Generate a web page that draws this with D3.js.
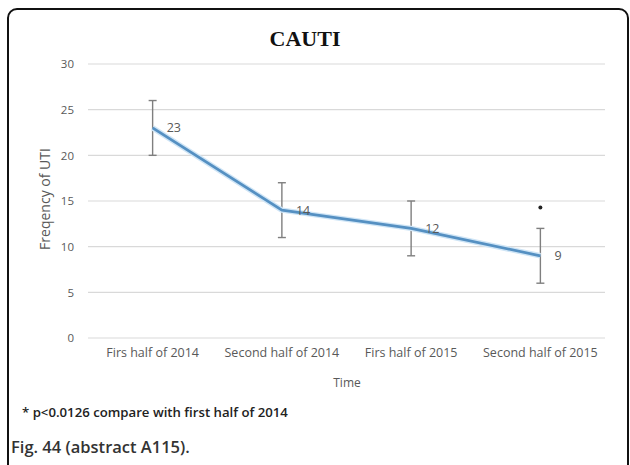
<!DOCTYPE html>
<html>
<head>
<meta charset="utf-8">
<script src="https://cdn.jsdelivr.net/npm/d3@7"></script>
<style>
  body { margin: 0; background: #fff; }
  svg { display: block; }
</style>
</head>
<body>
<div id="chart"></div>
<script>
// CAUTI - frequency of UTI per half-year, with error bars

const categories = ['Firs half of 2014', 'Second half of 2014', 'Firs half of 2015', 'Second half of 2015'];
const values = [23, 14, 12, 9];
const errLow = [20, 11, 9, 6];
const errHigh = [26, 17, 15, 12];
const yTicks = [0, 5, 10, 15, 20, 25, 30];
const starAt = [null, null, null, 14.3];

const W = 630, H = 465;
const plot = { left: 88, right: 605, top: 64, bottom: 338 };
const sans = '"Open Sans", sans-serif';

const svg = d3.select('#chart').append('svg')
    .attr('width', W)
    .attr('height', H);

// frame
svg.append('rect')
    .attr('x', 8).attr('y', 9)
    .attr('width', 620).attr('height', 480)
    .attr('rx', 9)
    .attr('fill', 'none')
    .attr('stroke', '#111')
    .attr('stroke-width', 2);

const x = d3.scaleBand()
    .domain(categories)
    .range([plot.left, plot.right]);

const y = d3.scaleLinear()
    .domain([0, 30])
    .range([plot.bottom, plot.top]);

const cx = d => x(d) + x.bandwidth() / 2;

// gridlines
svg.append('g')
    .selectAll('line')
    .data(yTicks)
    .enter()
    .append('line')
    .attr('x1', plot.left)
    .attr('x2', plot.right)
    .attr('y1', d => y(d))
    .attr('y2', d => y(d))
    .attr('stroke', '#d9d9d9')
    .attr('stroke-width', 1.2);

// y axis labels
const yAxis = svg.append('g')
    .attr('transform', `translate(${plot.left - 14},0)`)
    .call(d3.axisLeft(y).tickValues(yTicks).tickSize(0).tickPadding(0));
yAxis.select('.domain').remove();
yAxis.selectAll('text')
    .attr('font-family', sans)
    .attr('font-size', 11.5)
    .attr('fill', '#595959');

// x axis labels
const xAxis = svg.append('g')
    .attr('transform', `translate(0,${plot.bottom + 10})`)
    .call(d3.axisBottom(x).tickSize(0).tickPadding(0));
xAxis.select('.domain').remove();
xAxis.selectAll('text')
    .attr('font-family', sans)
    .attr('font-size', 12.5)
    .attr('fill', '#595959');

// axis titles
svg.append('text')
    .attr('x', 347).attr('y', 387)
    .attr('text-anchor', 'middle')
    .attr('font-family', sans)
    .attr('font-size', 12)
    .attr('fill', '#595959')
    .text('Time');

svg.append('text')
    .attr('transform', 'translate(50,199) rotate(-90)')
    .attr('text-anchor', 'middle')
    .attr('font-family', sans)
    .attr('font-size', 14)
    .attr('fill', '#595959')
    .text('Freqency of UTI');

// title
svg.append('text')
    .attr('x', 305).attr('y', 46)
    .attr('text-anchor', 'middle')
    .attr('font-family', '"Liberation Serif", "Times New Roman", serif')
    .attr('font-weight', 'bold')
    .attr('font-size', 22)
    .attr('fill', '#111')
    .text('CAUTI');

// error bars
const bars = svg.append('g');
categories.forEach((c, i) => {
    const xc = cx(c);
    bars.append('line')
        .attr('x1', xc).attr('x2', xc)
        .attr('y1', y(errLow[i])).attr('y2', y(errHigh[i]))
        .attr('stroke', '#7f7f7f').attr('stroke-width', 1.4);
    [errLow[i], errHigh[i]].forEach(v => {
        bars.append('line')
            .attr('x1', xc - 4).attr('x2', xc + 4)
            .attr('y1', y(v)).attr('y2', y(v))
            .attr('stroke', '#7f7f7f').attr('stroke-width', 1.4);
    });
});

// line
const line = d3.line()
    .x((d, i) => cx(categories[i]))
    .y(d => y(d));

svg.append('path')
    .datum(values)
    .attr('d', line)
    .attr('fill', 'none')
    .attr('stroke', '#cfe5f6')
    .attr('stroke-width', 5.5)
    .attr('stroke-linejoin', 'round');

svg.append('path')
    .datum(values)
    .attr('d', line)
    .attr('fill', 'none')
    .attr('stroke', '#5590c2')
    .attr('stroke-width', 2.8)
    .attr('stroke-linejoin', 'round');

// data labels
svg.append('g')
    .selectAll('text')
    .data(values)
    .enter()
    .append('text')
    .attr('x', (d, i) => cx(categories[i]) + 14)
    .attr('y', d => y(d) + 4.5)
    .attr('font-family', sans)
    .attr('font-size', 12.5)
    .attr('fill', '#595959')
    .text(d => d);

// significance marker
svg.append('g')
    .selectAll('circle')
    .data(starAt.map((v, i) => ({ v, c: categories[i] })).filter(d => d.v !== null))
    .enter()
    .append('circle')
    .attr('cx', d => cx(d.c))
    .attr('cy', d => y(d.v))
    .attr('r', 2)
    .attr('fill', '#222');

// footnote
svg.append('text')
    .attr('x', 22).attr('y', 417)
    .attr('font-family', sans)
    .attr('font-weight', 600)
    .attr('font-size', 13.2)
    .attr('fill', '#222')
    .text('* p<0.0126 compare with first half of 2014');

// caption
svg.append('text')
    .attr('x', 11).attr('y', 453)
    .attr('font-family', sans)
    .attr('font-weight', 600)
    .attr('font-size', 16.5)
    .attr('fill', '#333')
    .text('Fig. 44 (abstract A115).');
</script>
</body>
</html>
